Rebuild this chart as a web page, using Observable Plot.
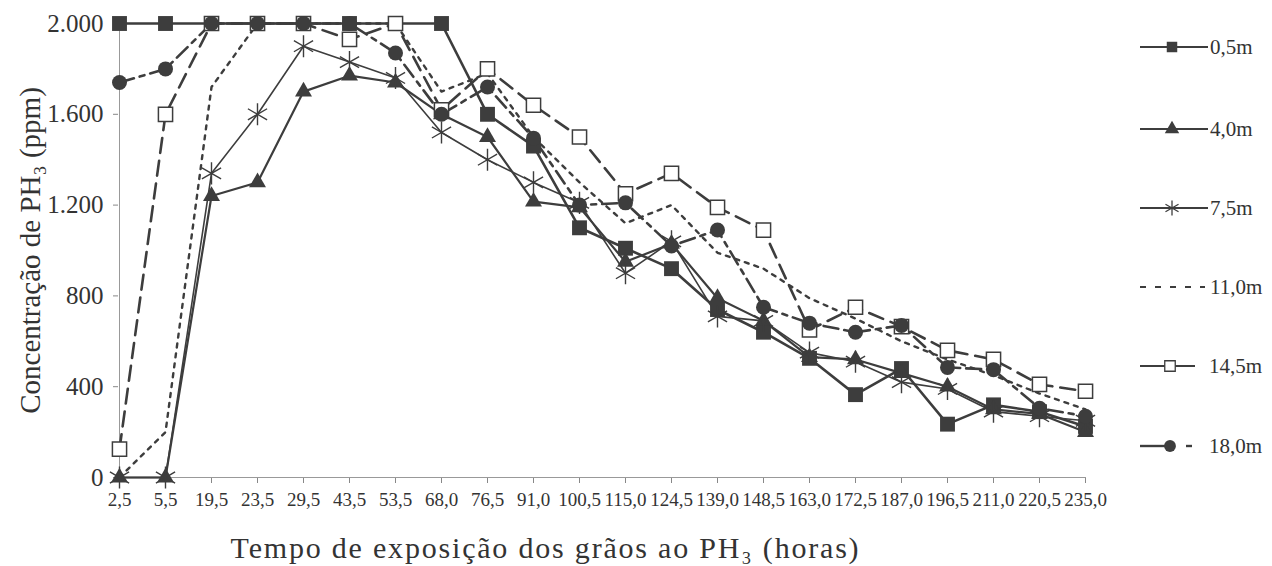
<!DOCTYPE html>
<html><head><meta charset="utf-8">
<script src="https://cdn.jsdelivr.net/npm/d3@7"></script>
<script src="https://cdn.jsdelivr.net/npm/@observablehq/plot@0.6"></script>
<style>
body{margin:0;background:#fff;font-family:'Liberation Serif',serif;}
#wrap{position:relative;width:1272px;height:566px;}
</style></head>
<body><div id="wrap"></div>
<script>
const tempos = ["2,5","5,5","19,5","23,5","29,5","43,5","53,5","68,0","76,5","91,0","100,5","115,0","124,5","139,0","148,5","163,0","172,5","187,0","196,5","211,0","220,5","235,0"];
const s05  = [2000,2000,2000,2000,2000,2000,2000,2000,1600,1460,1100,1010,920,740,640,525,365,480,235,320,290,225];
const s40  = [0,0,1240,1300,1700,1770,1740,1600,1500,1215,1190,950,1030,790,690,530,520,460,400,300,280,200];
const s75  = [0,0,1340,1600,1900,1830,1760,1520,1400,1300,1210,900,1040,710,690,550,510,420,390,290,270,250];
const s110 = [0,200,1720,2000,2000,2000,2000,1700,1780,1500,1300,1120,1200,990,920,790,700,600,520,450,370,300];
const s145 = [125,1600,2000,2000,2000,1930,2000,1620,1800,1640,1500,1250,1340,1190,1090,650,750,665,560,520,410,380];
const s180 = [1740,1800,2000,2000,2000,2000,1870,1600,1720,1495,1200,1210,1020,1090,750,680,640,670,485,475,305,270];
const seriesNames = ["0,5m","4,0m","7,5m","11,0m","14,5m","18,0m"];
const yTicks = [0,400,800,1200,1600,2000];

const SERIF = "'Liberation Serif', serif";
const C = "#3d3d3d";
const styles = {
  "0,5m": {sw:2.6, dash:null, symbol:"square", fill:C, r:8.4},
  "4,0m": {sw:2.2, dash:null, symbol:"triangle", fill:C, r:6.3},
  "7,5m": {sw:1.6, dash:null, symbol:"asterisk", fill:"none", r:10.5},
  "11,0m": {sw:2.4, dash:"4,6", symbol:null},
  "14,5m": {sw:2.6, dash:"15,8", symbol:"square", fill:"white", r:8},
  "18,0m": {sw:2.6, dash:"15,6,5,6", symbol:"circle", fill:C, r:7.5}
};
const all = [s05,s40,s75,s110,s145,s180];
const rows = [];
seriesNames.forEach((s,i)=> all[i].forEach((v,j)=> rows.push({serie:s, tempo:tempos[j], v})));

const fmt = d => d >= 1000 ? d3.format(",")(d).replace(",", ".") : String(d);

const marks = [
  Plot.ruleY([400,800,1200,1600], {x1: tempos[0], x2: tempos[tempos.length-1], stroke:"#6a6a6a", strokeWidth:2.2}),
  Plot.ruleY([2000], {x1: tempos[0], x2: tempos[tempos.length-1], stroke:"#9a9a9a", strokeWidth:3.5}),
  Plot.ruleY([2000], {x1: tempos[0], x2: tempos[tempos.length-1], stroke:"#e6e6e6", strokeWidth:1}),
  Plot.axisY({ticks: yTicks, tickFormat: fmt, tickSize:5, tickPadding:10, fontSize:25, fontFamily:SERIF, label:null, stroke:"#888", fill:"#333"}),
  Plot.axisX({tickSize:6, tickPadding:9, fontSize:19, fontFamily:SERIF, label:null, stroke:"#888", fill:"#333"}),
  Plot.ruleX([tempos[0]], {y1:0, y2:2000, stroke:"#999", strokeWidth:1}),
  Plot.ruleY([0], {stroke:"#999", strokeWidth:1}),
];
for (const s of seriesNames) {
  const st = styles[s];
  const data = rows.filter(d=>d.serie===s);
  marks.push(Plot.line(data, {x:"tempo", y:"v", stroke:C, strokeWidth:st.sw, strokeDasharray:st.dash, strokeLinejoin:"round"}));
}
for (const s of seriesNames) {
  const st = styles[s];
  if (!st.symbol) continue;
  const data = rows.filter(d=>d.serie===s);
  if (st.symbol === "asterisk")
    marks.push(Plot.dot(data, {x:"tempo", y:"v", symbol:"asterisk", r:st.r, stroke:C, strokeWidth:1.4}));
  else if (st.fill === "white")
    marks.push(Plot.dot(data, {x:"tempo", y:"v", symbol:st.symbol, r:st.r, fill:"white", stroke:C, strokeWidth:1.5}));
  else
    marks.push(Plot.dot(data, {x:"tempo", y:"v", symbol:st.symbol, r:st.r, fill:st.fill, stroke:"none"}));
}
marks.push(Plot.text(["Concentração de PH₃ (ppm)"], {frameAnchor:"left", dx:-88, rotate:-90, textAnchor:"middle", lineAnchor:"middle", fontSize:29, fontFamily:SERIF, fill:"#333"}));
marks.push(Plot.text(["Tempo de exposição dos grãos ao PH₃ (horas)"], {frameAnchor:"bottom", dx:-57, dy:71, textAnchor:"middle", lineAnchor:"middle", fontSize:30, fontFamily:SERIF, fill:"#333", style:{letterSpacing:"1.8px"}}));

const chart = Plot.plot({
  width:1272, height:566,
  marginLeft:118, marginRight:186, marginTop:23, marginBottom:89,
  style:{fontFamily:SERIF, color:"#333", background:"white"},
  x:{type:"point", domain:tempos, padding:0},
  y:{domain:[0,2000]},
  marks
});
// letter-spacing for the x title
d3.select(chart).selectAll("text").filter(function(){ return this.textContent.startsWith("Tempo"); }).style("letter-spacing","1.8px");
document.getElementById("wrap").appendChild(chart);

// legend
const legY = [47,129,208,287,366,446];
const leg = d3.create("svg").attr("width",142).attr("height",480)
  .style("position","absolute").style("left","1130px").style("top","0px");
seriesNames.forEach((s,i)=>{
  const st = styles[s]; const y = legY[i];
  const g = leg.append("g").attr("transform",`translate(0,${y})`);
  const x1 = 10, x2 = 75, xm = (s==="14,5m"||s==="18,0m") ? 40 : 42;
  if (s === "11,0m") {
    g.append("line").attr("x1",x1).attr("x2",x2).attr("stroke",C).attr("stroke-width",2).attr("stroke-dasharray","6,9");
  } else if (s === "18,0m") {
    g.append("line").attr("x1",x1).attr("x2",xm).attr("stroke",C).attr("stroke-width",2.4);
    g.append("line").attr("x1",xm+16).attr("x2",xm+22).attr("stroke",C).attr("stroke-width",2.4);
  } else if (s === "14,5m") {
    g.append("line").attr("x1",x1).attr("x2",x2-10).attr("stroke",C).attr("stroke-width",2.2);
  } else {
    g.append("line").attr("x1",x1).attr("x2",x2+3).attr("stroke",C).attr("stroke-width",st.sw>2?2.2:1.8);
  }
  if (st.symbol) {
    const sym = {square:d3.symbolSquare, triangle:d3.symbolTriangle, asterisk:d3.symbolAsterisk, circle:d3.symbolCircle}[st.symbol];
    const size = st.symbol==="asterisk" ? 160 : st.symbol==="triangle" ? 90 : 110;
    g.append("path").attr("transform",`translate(${xm},0)`).attr("d", d3.symbol(sym, size)())
      .attr("fill", st.fill==="none"?"none":st.fill).attr("stroke", st.fill==="white"||st.fill==="none"?C:"none").attr("stroke-width",1.3);
  }
  g.append("text").attr("x", s==="14,5m"||s==="18,0m" ? 79 : 80).attr("dy","0.35em").attr("font-size",21)
    .attr("font-family",SERIF).attr("fill","#333").text(s);
});
document.getElementById("wrap").appendChild(leg.node());
</script></body></html>
